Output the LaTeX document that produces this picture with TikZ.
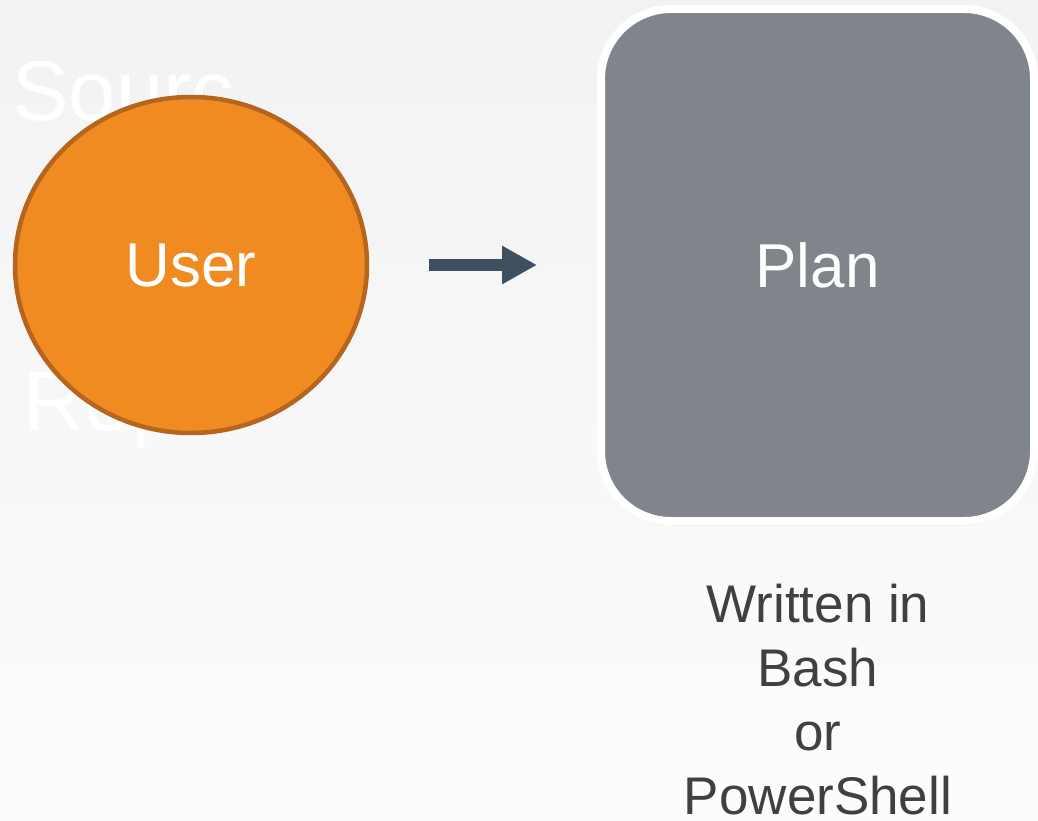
\documentclass[tikz,border=0pt]{standalone}
\usepackage{fontspec}
\setmainfont{Liberation Sans}
\usetikzlibrary{shapes.geometric,arrows.meta,shadows}
\definecolor{userfill}{HTML}{F08B22}
\definecolor{userline}{HTML}{B5651D}
\definecolor{planfill}{HTML}{7F858B}
\definecolor{arrowcol}{HTML}{3E4F5F}
\definecolor{notecol}{HTML}{404040}
\tikzset{
  bigtext/.style={font=\fontsize{62}{70}\selectfont, text=white},
  ghosttext/.style={font=\fontsize{85}{100}\selectfont, text=white, inner sep=0, anchor=base west},
}
\begin{document}
\begin{tikzpicture}[x=1pt,y=-1pt]
      \shade[top color=black!5, bottom color=black!1] (0,0) rectangle (1038,821);
      \useasboundingbox (0,0) rectangle (1038,821);
      \draw
        (12,121) node[ghosttext] (src){Sourc}
        (23,430) node[ghosttext] (rep){Rep};
      \node[ellipse, draw=userline, line width=4.5pt, fill=userfill,
            minimum width=352pt, minimum height=336pt, bigtext] (user) at (191,265) {User};
      \node[rectangle, rounded corners=70pt, draw=white, line width=8pt, fill=planfill,
            minimum width=433pt, minimum height=512pt, bigtext,
            drop shadow={opacity=0.5, shadow xshift=0pt, shadow yshift=-4pt}] (plan) at (817.5,265) {Plan};
      \node[font=\fontsize{53}{64}\selectfont, text=notecol, align=center, anchor=north] (note)
        at (818,581) {Written in\\Bash\\or\\PowerShell};
      \begin{scope}[-{Triangle[length=35pt,width=36pt]}]
        \draw[arrowcol, line width=12pt, shorten <=60pt, shorten >=60pt] (user.east) to (plan.west);
      \end{scope}
    \end{tikzpicture}
\end{document}
